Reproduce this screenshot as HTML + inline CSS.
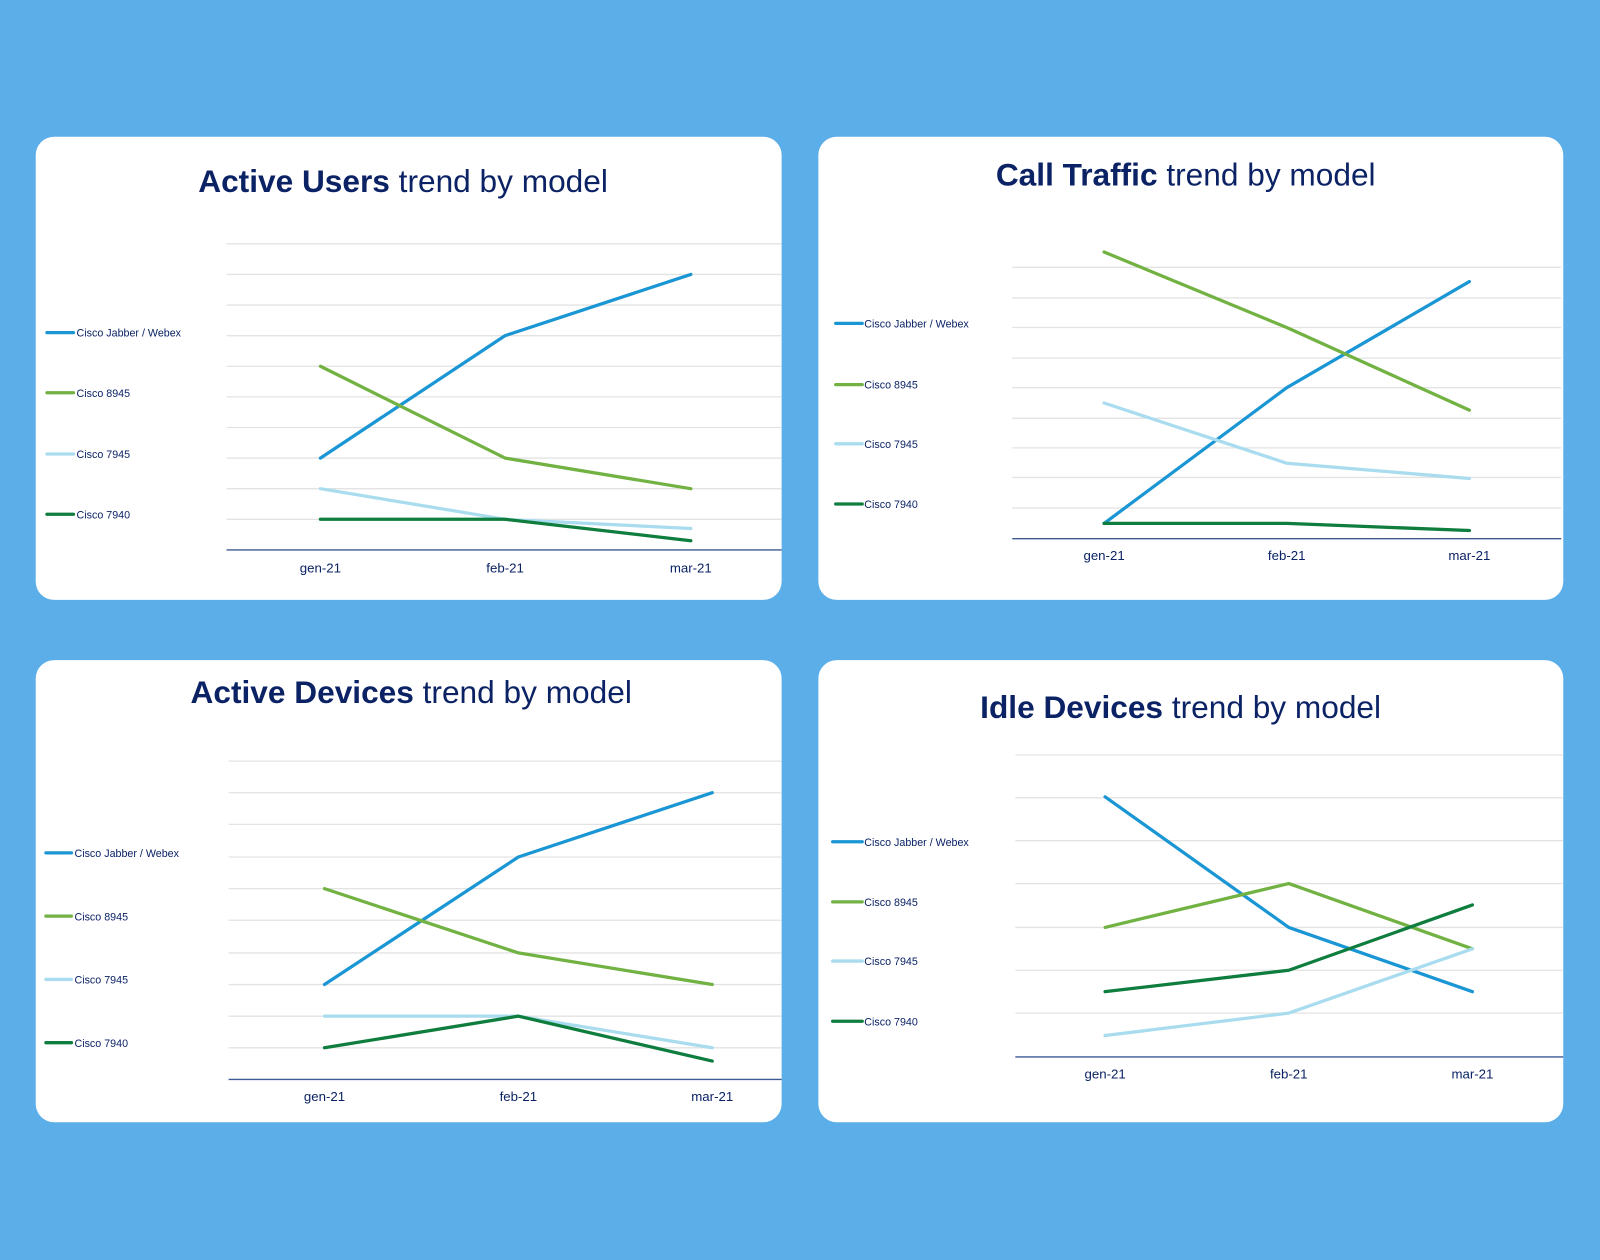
<!DOCTYPE html>
<html><head><meta charset="utf-8"><style>
html,body{margin:0;padding:0;background:#5BAEE8;}
svg{display:block;}
text{font-family:"Liberation Sans",sans-serif;fill:#0B2265;}
.t{font-size:31px;}
.lg{font-size:10.5px;}
.ax{font-size:13px;text-anchor:middle;}
.g{stroke:#e3e3e3;stroke-width:1.3;}
.a{stroke:#3d5a94;stroke-width:1.3;}
.s{fill:none;stroke-width:3.2;stroke-linejoin:round;stroke-linecap:round;}
.b{stroke:#1A96D4}.gr{stroke:#72B243}.l{stroke:#A9DCEE}.d{stroke:#0E7D3E}
</style></head><body>
<svg width="1600" height="1260" viewBox="0 0 1568 1235" preserveAspectRatio="none">
<rect width="1568" height="1235" fill="#5BAEE8"/>
<!-- Panel 1 -->
<rect x="35" y="134" width="731" height="454" rx="18" fill="#fff"/>
<text class="t" x="395" y="188" text-anchor="middle"><tspan font-weight="bold">Active Users</tspan> trend by model</text>
<g class="g"><line x1="222" x2="766" y1="239" y2="239"/><line x1="222" x2="766" y1="269" y2="269"/><line x1="222" x2="766" y1="299" y2="299"/><line x1="222" x2="766" y1="329" y2="329"/><line x1="222" x2="766" y1="359" y2="359"/><line x1="222" x2="766" y1="389" y2="389"/><line x1="222" x2="766" y1="419" y2="419"/><line x1="222" x2="766" y1="449" y2="449"/><line x1="222" x2="766" y1="479" y2="479"/><line x1="222" x2="766" y1="509" y2="509"/></g>
<line class="a" x1="222" x2="766" y1="539" y2="539"/>
<text class="ax" x="314" y="561">gen-21</text><text class="ax" x="495" y="561">feb-21</text><text class="ax" x="677" y="561">mar-21</text>
<polyline class="s b" points="314,449 495,329 677,269"/>
<polyline class="s gr" points="314,359 495,449 677,479"/>
<polyline class="s l" points="314,479 495,509 677,518"/>
<polyline class="s d" points="314,509 495,509 677,530"/>
<line class="s b" x1="46" x2="72" y1="326" y2="326"/><text class="lg" x="75" y="330">Cisco Jabber / Webex</text>
<line class="s gr" x1="46" x2="72" y1="385" y2="385"/><text class="lg" x="75" y="389">Cisco 8945</text>
<line class="s l" x1="46" x2="72" y1="445" y2="445"/><text class="lg" x="75" y="449">Cisco 7945</text>
<line class="s d" x1="46" x2="72" y1="504" y2="504"/><text class="lg" x="75" y="508">Cisco 7940</text>

<!-- Panel 2 -->
<rect x="802" y="134" width="730" height="454" rx="18" fill="#fff"/>
<text class="t" x="1162" y="182" text-anchor="middle"><tspan font-weight="bold">Call Traffic</tspan> trend by model</text>
<g class="g"><line x1="992" x2="1530" y1="262" y2="262"/><line x1="992" x2="1530" y1="292" y2="292"/><line x1="992" x2="1530" y1="321" y2="321"/><line x1="992" x2="1530" y1="351" y2="351"/><line x1="992" x2="1530" y1="380" y2="380"/><line x1="992" x2="1530" y1="410" y2="410"/><line x1="992" x2="1530" y1="439" y2="439"/><line x1="992" x2="1530" y1="468" y2="468"/><line x1="992" x2="1530" y1="498" y2="498"/></g>
<line class="a" x1="992" x2="1530" y1="528" y2="528"/>
<text class="ax" x="1082" y="549">gen-21</text><text class="ax" x="1261" y="549">feb-21</text><text class="ax" x="1440" y="549">mar-21</text>
<polyline class="s b" points="1082,513 1261,380 1440,276"/>
<polyline class="s gr" points="1082,247 1261,321 1440,402"/>
<polyline class="s l" points="1082,395 1261,454 1440,469"/>
<polyline class="s d" points="1082,513 1261,513 1440,520"/>
<line class="s b" x1="819" x2="845" y1="317" y2="317"/><text class="lg" x="847" y="321">Cisco Jabber / Webex</text>
<line class="s gr" x1="819" x2="845" y1="377" y2="377"/><text class="lg" x="847" y="381">Cisco 8945</text>
<line class="s l" x1="819" x2="845" y1="435" y2="435"/><text class="lg" x="847" y="439">Cisco 7945</text>
<line class="s d" x1="819" x2="845" y1="494" y2="494"/><text class="lg" x="847" y="498">Cisco 7940</text>

<!-- Panel 3 -->
<rect x="35" y="647" width="731" height="453" rx="18" fill="#fff"/>
<text class="t" x="403" y="689" text-anchor="middle"><tspan font-weight="bold">Active Devices</tspan> trend by model</text>
<g class="g"><line x1="224" x2="766" y1="746" y2="746"/><line x1="224" x2="766" y1="777" y2="777"/><line x1="224" x2="766" y1="808" y2="808"/><line x1="224" x2="766" y1="840" y2="840"/><line x1="224" x2="766" y1="871" y2="871"/><line x1="224" x2="766" y1="902" y2="902"/><line x1="224" x2="766" y1="934" y2="934"/><line x1="224" x2="766" y1="965" y2="965"/><line x1="224" x2="766" y1="996" y2="996"/><line x1="224" x2="766" y1="1027" y2="1027"/></g>
<line class="a" x1="224" x2="766" y1="1058" y2="1058"/>
<text class="ax" x="318" y="1079">gen-21</text><text class="ax" x="508" y="1079">feb-21</text><text class="ax" x="698" y="1079">mar-21</text>
<polyline class="s b" points="318,965 508,840 698,777"/>
<polyline class="s gr" points="318,871 508,934 698,965"/>
<polyline class="s l" points="318,996 508,996 698,1027"/>
<polyline class="s d" points="318,1027 508,996 698,1040"/>
<line class="s b" x1="45" x2="70" y1="836" y2="836"/><text class="lg" x="73" y="840">Cisco Jabber / Webex</text>
<line class="s gr" x1="45" x2="70" y1="898" y2="898"/><text class="lg" x="73" y="902">Cisco 8945</text>
<line class="s l" x1="45" x2="70" y1="960" y2="960"/><text class="lg" x="73" y="964">Cisco 7945</text>
<line class="s d" x1="45" x2="70" y1="1022" y2="1022"/><text class="lg" x="73" y="1026">Cisco 7940</text>

<!-- Panel 4 -->
<rect x="802" y="647" width="730" height="453" rx="18" fill="#fff"/>
<text class="t" x="1157" y="704" text-anchor="middle"><tspan font-weight="bold">Idle Devices</tspan> trend by model</text>
<g class="g"><line x1="995" x2="1532" y1="740" y2="740"/><line x1="995" x2="1532" y1="782" y2="782"/><line x1="995" x2="1532" y1="824" y2="824"/><line x1="995" x2="1532" y1="866" y2="866"/><line x1="995" x2="1532" y1="909" y2="909"/><line x1="995" x2="1532" y1="951" y2="951"/><line x1="995" x2="1532" y1="993" y2="993"/></g>
<line class="a" x1="995" x2="1532" y1="1036" y2="1036"/>
<text class="ax" x="1083" y="1057">gen-21</text><text class="ax" x="1263" y="1057">feb-21</text><text class="ax" x="1443" y="1057">mar-21</text>
<polyline class="s b" points="1083,781 1263,909 1443,972"/>
<polyline class="s gr" points="1083,909 1263,866 1443,930"/>
<polyline class="s l" points="1083,1015 1263,993 1443,930"/>
<polyline class="s d" points="1083,972 1263,951 1443,887"/>
<line class="s b" x1="816" x2="845" y1="825" y2="825"/><text class="lg" x="847" y="829">Cisco Jabber / Webex</text>
<line class="s gr" x1="816" x2="845" y1="884" y2="884"/><text class="lg" x="847" y="888">Cisco 8945</text>
<line class="s l" x1="816" x2="845" y1="942" y2="942"/><text class="lg" x="847" y="946">Cisco 7945</text>
<line class="s d" x1="816" x2="845" y1="1001" y2="1001"/><text class="lg" x="847" y="1005">Cisco 7940</text>
</svg>
</body></html>
